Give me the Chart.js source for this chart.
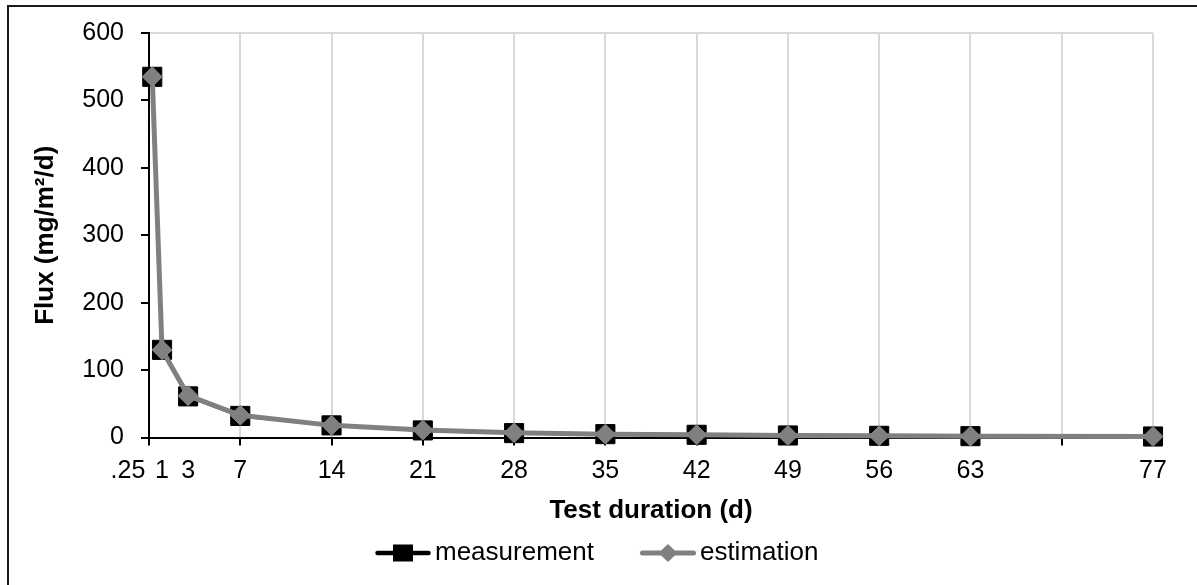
<!DOCTYPE html>
<html>
<head>
<meta charset="utf-8">
<script src="https://cdn.jsdelivr.net/npm/chart.js@4/dist/chart.umd.min.js"></script>
<style>
html, body { margin: 0; padding: 0; background: #fff; }
#wrap { width: 1197px; height: 585px; }
</style>
</head>
<body>
<div id="wrap"><canvas id="c" width="1197" height="585"></canvas></div>
<script>
// ---- data ----
const days = [0.25, 1, 3, 7, 14, 21, 28, 35, 42, 49, 56, 63, 77];
const measurement = [535, 130, 61, 32, 18, 10.5, 6.5, 5, 4, 3, 2.5, 2, 1.5];
const estimation = [535, 130, 62, 33, 18, 11, 7, 5, 4, 3, 2.5, 2, 1.5];
const xTickLabels = ['.25', '1', '3', '7', '14', '21', '28', '35', '42', '49', '56', '63', '77'];
const gridDays = [0, 7, 14, 21, 28, 35, 42, 49, 56, 63, 70, 77];
const yTicks = [0, 100, 200, 300, 400, 500, 600];
const seriesNames = ['measurement', 'estimation'];
const xTitle = 'Test duration (d)';
const yTitle = 'Flux (mg/m²/d)';

// ---- styles ----
const FONT = "'Liberation Sans', Arial, Helvetica, sans-serif";
const GRAY = '#808080';
const GRID = '#d9d9d9';
const CLEAR = 'rgba(0,0,0,0)';

Chart.defaults.font.family = FONT;
Chart.defaults.color = '#000';

function legendIcon(kind) {
  const W = 101, H = 26, seg = 56;
  const c = document.createElement('canvas');
  c.width = W; c.height = H;
  const g = c.getContext('2d');
  const x0 = W - seg, cy = H / 2, cx = W - seg / 2;
  g.lineCap = 'round';
  if (kind === 0) {
    g.strokeStyle = '#000'; g.lineWidth = 4.5;
    g.beginPath(); g.moveTo(x0 + 2.5, cy); g.lineTo(W - 2.5, cy); g.stroke();
    g.fillStyle = '#000';
    g.fillRect(cx - 10, cy - 8.5, 20, 17);
  } else {
    g.strokeStyle = GRAY; g.lineWidth = 5;
    g.beginPath(); g.moveTo(x0 + 2.5, cy); g.lineTo(W - 2.5, cy); g.stroke();
    g.fillStyle = GRAY;
    g.beginPath();
    g.moveTo(cx, cy - 9); g.lineTo(cx + 9.5, cy); g.lineTo(cx, cy + 9); g.lineTo(cx - 9.5, cy);
    g.closePath(); g.fill();
  }
  return c;
}
const legendIcons = [legendIcon(0), legendIcon(1)];

const framePlugin = {
  id: 'frame',
  beforeDraw(chart) {
    const ctx = chart.ctx;
    ctx.save();
    ctx.fillStyle = '#fff';
    ctx.fillRect(0, 0, chart.width, chart.height);
    ctx.strokeStyle = '#1a1a1a';
    ctx.lineWidth = 2;
    ctx.beginPath();
    ctx.moveTo(8, chart.height + 2);
    ctx.lineTo(8, 6);
    ctx.lineTo(chart.width + 2, 6);
    ctx.stroke();
    ctx.restore();
  }
};

const toXY = (ys) => days.map((d, i) => ({ x: d, y: ys[i] }));

new Chart(document.getElementById('c'), {
  type: 'line',
  data: {
    datasets: [
      {
        label: seriesNames[0],
        data: toXY(measurement),
        borderColor: '#000',
        borderWidth: 3,
        backgroundColor: '#000',
        pointStyle: 'rect',
        pointRadius: 13.5,
        pointBorderWidth: 1,
        pointBackgroundColor: '#000',
        pointBorderColor: '#000',
        tension: 0,
        clip: false,
        order: 1
      },
      {
        label: seriesNames[1],
        data: toXY(estimation),
        borderColor: GRAY,
        borderWidth: 5,
        backgroundColor: GRAY,
        pointStyle: 'rectRot',
        pointRadius: 10,
        pointBorderWidth: 1,
        pointBackgroundColor: GRAY,
        pointBorderColor: GRAY,
        tension: 0,
        clip: false,
        order: 0
      }
    ]
  },
  options: {
    responsive: false,
    animation: false,
    devicePixelRatio: 1,
    layout: { padding: { left: 4.4, right: 44, top: 33, bottom: 9 } },
    scales: {
      x: {
        type: 'linear',
        min: 0,
        max: 77,
        afterBuildTicks: (scale) => {
          const vals = Array.from(new Set([...gridDays, ...days])).sort((a, b) => a - b);
          scale.ticks = vals.map(v => ({ value: v }));
        },
        afterFit: (scale) => { scale.height = 92.5; },
        ticks: {
          autoSkip: false,
          maxRotation: 0,
          minRotation: 0,
          padding: 11,
          color: '#000',
          font: { size: 25 },
          callback: (value) => {
            const i = days.indexOf(value);
            if (i < 0) return '';
            return i === 0 ? xTickLabels[0] + '       ' : xTickLabels[i];
          }
        },
        grid: {
          color: (c) => (c.tick && c.tick.value > 0 && gridDays.includes(c.tick.value)) ? GRID : CLEAR,
          tickColor: (c) => (c.tick && gridDays.includes(c.tick.value)) ? '#000' : CLEAR,
          lineWidth: 2,
          tickWidth: 2,
          tickLength: 8
        },
        border: { color: '#000', width: 2 },
        title: {
          display: true,
          text: xTitle,
          color: '#000',
          font: { size: 26, weight: 'bold' },
          padding: { top: 0, bottom: 3.4 }
        }
      },
      y: {
        type: 'linear',
        min: 0,
        max: 600,
        afterBuildTicks: (scale) => { scale.ticks = yTicks.map(v => ({ value: v })); },
        afterFit: (scale) => { scale.width = 144.6; },
        ticks: {
          padding: 17,
          color: '#000',
          font: { size: 25 }
        },
        grid: {
          color: (c) => (c.tick && c.tick.value === 600) ? GRID : CLEAR,
          tickColor: '#000',
          lineWidth: 2,
          tickWidth: 2,
          tickLength: 8
        },
        border: { color: '#000', width: 2 },
        title: {
          display: true,
          text: yTitle,
          color: '#000',
          font: { size: 26, weight: 'bold' },
          padding: { top: 26, bottom: 0 }
        }
      }
    },
    plugins: {
      tooltip: { enabled: false },
      legend: {
        position: 'bottom',
        labels: {
          usePointStyle: true,
          pointStyleWidth: 83,
          padding: 10,
          color: '#000',
          font: { size: 26 },
          generateLabels: (chart) => chart.data.datasets.map((ds, i) => ({
            text: ds.label,
            datasetIndex: i,
            pointStyle: legendIcons[i],
            fillStyle: CLEAR,
            strokeStyle: CLEAR,
            lineWidth: 0,
            hidden: false,
            fontColor: '#000'
          }))
        }
      }
    }
  },
  plugins: [framePlugin]
});
</script>
</body>
</html>
